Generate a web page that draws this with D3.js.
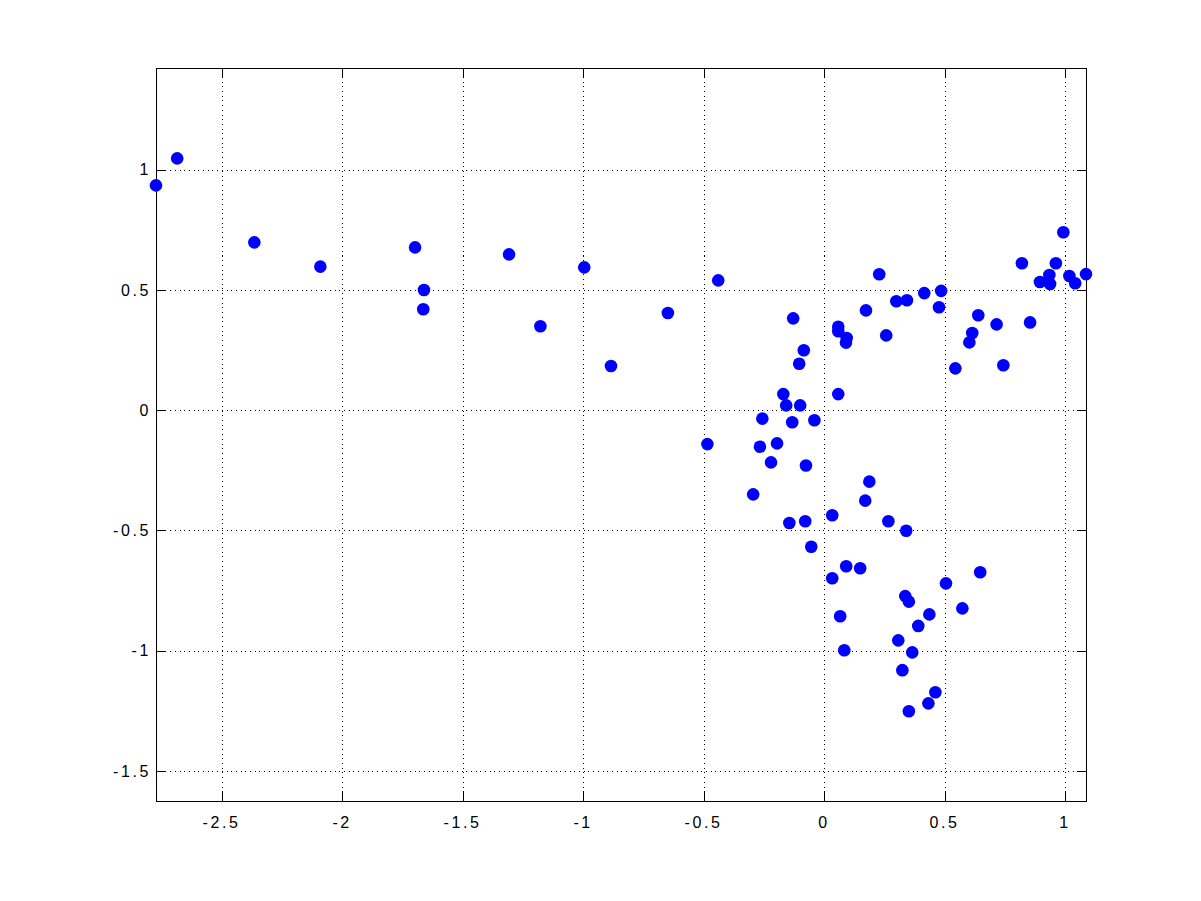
<!DOCTYPE html>
<html>
<head>
<meta charset="utf-8">
<script src="https://cdn.jsdelivr.net/npm/d3@7"></script>
<style>
  body { margin: 0; background: #fff; }
</style>
</head>
<body>
<div id="chart"></div>
<script>
// scatter values
var xs = [
  -2.773, -2.685, -2.365, -2.091, -1.698, -1.661, -1.664, -1.308, -1.178, -0.996,
  -0.885, -0.649, -0.440, -0.485, -0.129, -0.085, -0.104, -0.170, -0.158, -0.100,
  -0.257, -0.133, -0.041, -0.267, -0.196, -0.221, -0.076, -0.295, -0.145, -0.079,
  -0.054, 0.033, 0.058, 0.058, 0.093, 0.090, 0.058, 0.173, 0.228, 0.257,
  0.187, 0.170, 0.266, 0.340, 0.091, 0.149, 0.033, 0.066, 0.083, 0.307,
  0.336, 0.351, 0.390, 0.436, 0.365, 0.324, 0.505, 0.573, 0.647, 0.461,
  0.432, 0.351, 0.299, 0.343, 0.415, 0.485, 0.476, 0.639, 0.614, 0.602,
  0.544, 0.715, 0.743, 0.854, 0.820, 0.895, 0.934, 0.937, 0.961, 0.992,
  1.017, 1.041, 1.086
];
var ys = [
  0.935, 1.047, 0.698, 0.597, 0.677, 0.500, 0.420, 0.648, 0.349, 0.594,
  0.184, 0.404, 0.540, -0.141, 0.382, 0.249, 0.193, 0.067, 0.020, 0.020,
  -0.035, -0.050, -0.042, -0.152, -0.138, -0.217, -0.230, -0.350, -0.469, -0.462,
  -0.568, -0.437, 0.347, 0.328, 0.300, 0.281, 0.067, 0.415, 0.565, 0.311,
  -0.297, -0.376, -0.462, -0.501, -0.649, -0.657, -0.699, -0.857, -0.998, -0.957,
  -0.773, -0.796, -0.897, -0.849, -1.007, -1.081, -0.720, -0.824, -0.674, -1.173,
  -1.219, -1.252, 0.453, 0.457, 0.487, 0.496, 0.428, 0.395, 0.321, 0.282,
  0.174, 0.357, 0.187, 0.365, 0.611, 0.533, 0.562, 0.525, 0.611, 0.740,
  0.558, 0.528, 0.566
];
var xTicks = [-2.5, -2, -1.5, -1, -0.5, 0, 0.5, 1];
var yTicks = [-1.5, -1, -0.5, 0, 0.5, 1];
var yLimits = [-1.625, 1.425];

var W = 1201, H = 901;
var plot = { left: 156, right: 1086, top: 67.5, bottom: 801 };
var tickLen = 9;
var spacing = 2.6; // matlab labels are spread out

var svg = d3.select("#chart").append("svg")
  .attr("width", W)
  .attr("height", H);

// axis is tight on x
var x = d3.scaleLinear()
  .domain(d3.extent(xs))
  .range([plot.left, plot.right]);

var y = d3.scaleLinear()
  .domain(yLimits)
  .range([plot.bottom, plot.top]);

// dotted grid
var grid = svg.append("g").attr("class", "grid")
  .attr("stroke", "#000")
  .attr("stroke-width", 1)
  .attr("stroke-dasharray", "1,3.7")
  .attr("shape-rendering", "crispEdges");

grid.selectAll("line.gx")
  .data(xTicks)
  .enter().append("line")
    .attr("class", "gx")
    .attr("x1", d => Math.round(x(d)) + 0.5)
    .attr("x2", d => Math.round(x(d)) + 0.5)
    .attr("y1", plot.top)
    .attr("y2", plot.bottom);

grid.selectAll("line.gy")
  .data(yTicks)
  .enter().append("line")
    .attr("class", "gy")
    .attr("y1", d => Math.round(y(d)) + 0.5)
    .attr("y2", d => Math.round(y(d)) + 0.5)
    .attr("x1", plot.left)
    .attr("x2", plot.right);

var fmt = d => String(d); // plain hyphen minus, as matlab prints it

// axes, ticks pointing inward on all four sides
var bottomAxis = d3.axisBottom(x).tickValues(xTicks).tickSizeInner(-tickLen).tickSizeOuter(0).tickPadding(16).tickFormat(fmt);
var topAxis = d3.axisTop(x).tickValues(xTicks).tickSizeInner(-tickLen).tickSizeOuter(0).tickFormat("");
var leftAxis = d3.axisLeft(y).tickValues(yTicks).tickSizeInner(-tickLen).tickSizeOuter(0).tickPadding(5).tickFormat(fmt);
var rightAxis = d3.axisRight(y).tickValues(yTicks).tickSizeInner(-tickLen).tickSizeOuter(0).tickFormat("");

function styleAxis(g) {
  g.select(".domain").remove();
  g.selectAll("line").attr("stroke", "#000").attr("shape-rendering", "crispEdges");
  g.selectAll("text")
    .attr("fill", "#000")
    .style("font-family", '"Liberation Sans", Arial, sans-serif')
    .style("font-size", "16px")
    .style("letter-spacing", spacing + "px");
}

svg.append("g")
  .attr("transform", `translate(0,${plot.bottom})`)
  .call(bottomAxis)
  .call(styleAxis)
  .selectAll("text")
    .attr("dx", spacing / 2 - 2);

svg.append("g")
  .attr("transform", `translate(0,${plot.top})`)
  .call(topAxis)
  .call(styleAxis);

svg.append("g")
  .attr("transform", `translate(${plot.left},0)`)
  .call(leftAxis)
  .call(styleAxis);

svg.append("g")
  .attr("transform", `translate(${plot.right},0)`)
  .call(rightAxis)
  .call(styleAxis);

// box
svg.append("rect")
  .attr("x", plot.left + 0.5)
  .attr("y", Math.round(plot.top) + 0.5)
  .attr("width", plot.right - plot.left)
  .attr("height", plot.bottom - Math.round(plot.top))
  .attr("fill", "none")
  .attr("stroke", "#000")
  .attr("stroke-width", 1)
  .attr("shape-rendering", "crispEdges");

// points (not clipped, like matlab markers)
svg.append("g")
  .selectAll("circle")
  .data(xs.map((v, i) => ({ x: v, y: ys[i] })))
  .enter().append("circle")
    .attr("cx", d => x(d.x))
    .attr("cy", d => y(d.y))
    .attr("r", 6.3)
    .attr("fill", "#0000ff");
</script>
</body>
</html>
